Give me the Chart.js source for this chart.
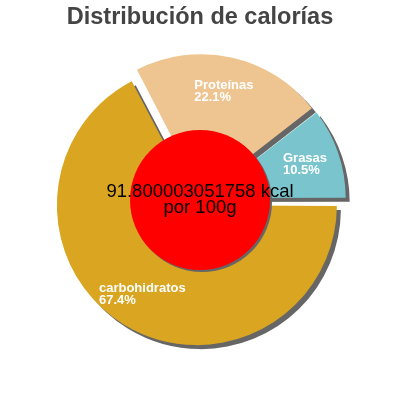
<!DOCTYPE html>
<html><head><meta charset="utf-8">
<script src="https://cdn.jsdelivr.net/npm/chart.js@4"></script>
<style>html,body{margin:0;padding:0;background:#fff}#wrap{width:400px;height:400px}</style>
</head><body><div id="wrap"><canvas id="c" width="400" height="400"></canvas></div>
<script>
const categories = ['carbohidratos', 'Proteínas', 'Grasas'];
const percentages = [67.4, 22.1, 10.5];
const sliceColors = ['#DAA520', '#EEC591', '#7AC5CD'];
const titleText = 'Distribución de calorías';
const centerLines = ['91.800003051758 kcal', 'por 100g'];

const RADIUS = 140;
const OFFSET_PX = 6;

const radiusFix = {
  id: 'radiusFix',
  afterDatasetUpdate(chart, args) {
    args.meta.data.forEach(arc => {
      const fix = 1 - Math.sin(Math.min(Math.PI, arc.circumference || 0));
      arc.outerRadius = RADIUS - OFFSET_PX * fix;
    });
  }
};

const shadow = {
  id: 'shadow',
  beforeDatasetsDraw(chart) {
    const ctx = chart.ctx;
    ctx.save();
    ctx.shadowColor = '#666666';
    ctx.shadowOffsetX = 4;
    ctx.shadowOffsetY = 4;
    ctx.shadowBlur = 0;
  },
  afterDatasetsDraw(chart) {
    const ctx = chart.ctx;
    ctx.restore();
    const meta = chart.getDatasetMeta(0);
    const cx = meta.data[0].x, cy = meta.data[0].y;
    // slice labels
    ctx.save();
    ctx.font = 'bold 13px "Liberation Sans", Arial, sans-serif';
    ctx.fillStyle = '#ffffff';
    ctx.textBaseline = 'middle';
    ctx.textAlign = 'left';
    meta.data.forEach((arc, i) => {
      const mid = (arc.startAngle + arc.endAngle) / 2;
      const r = OFFSET_PX + 105;
      const ax = cx + Math.cos(mid) * r;
      const ay = cy + Math.sin(mid) * r;
      const lines = [categories[i], percentages[i].toFixed(1) + '%'];
      const w = Math.max(...lines.map(l => ctx.measureText(l).width));
      ctx.fillText(lines[0], ax - w / 2, ay - 6);
      ctx.fillText(lines[1], ax - w / 2, ay + 6);
    });
    ctx.restore();
    // center circle
    ctx.save();
    ctx.shadowColor = '#666666';
    ctx.shadowOffsetX = 2;
    ctx.shadowOffsetY = 2;
    ctx.fillStyle = '#FF0000';
    ctx.beginPath();
    ctx.arc(cx, cy, RADIUS / 2, 0, Math.PI * 2);
    ctx.fill();
    ctx.restore();
    ctx.save();
    ctx.fillStyle = '#000000';
    ctx.font = '18.5px "Liberation Sans", Arial, sans-serif';
    ctx.textAlign = 'center';
    ctx.textBaseline = 'alphabetic';
    ctx.fillText(centerLines[0], cx, cy - 3);
    ctx.fillText(centerLines[1], cx, cy + 13);
    ctx.restore();
  }
};

new Chart(document.getElementById('c'), {
  type: 'pie',
  data: {
    labels: categories,
    datasets: [{
      data: percentages,
      backgroundColor: sliceColors,
      borderWidth: 0,
      offset: OFFSET_PX * 4,
      radius: RADIUS
    }]
  },
  options: {
    responsive: false,
    animation: false,
    rotation: 90,
    layout: { padding: { top: 0, bottom: 31.5, left: 0, right: 0 } },
    plugins: {
      legend: { display: false },
      tooltip: { enabled: false },
      title: {
        display: true,
        text: titleText,
        color: '#444444',
        font: { family: '"Liberation Sans", Arial, sans-serif', size: 23.5, weight: 'bold' },
        padding: { top: 3.3, bottom: 0 }
      }
    }
  },
  plugins: [radiusFix, shadow]
});
</script>
</body></html>
